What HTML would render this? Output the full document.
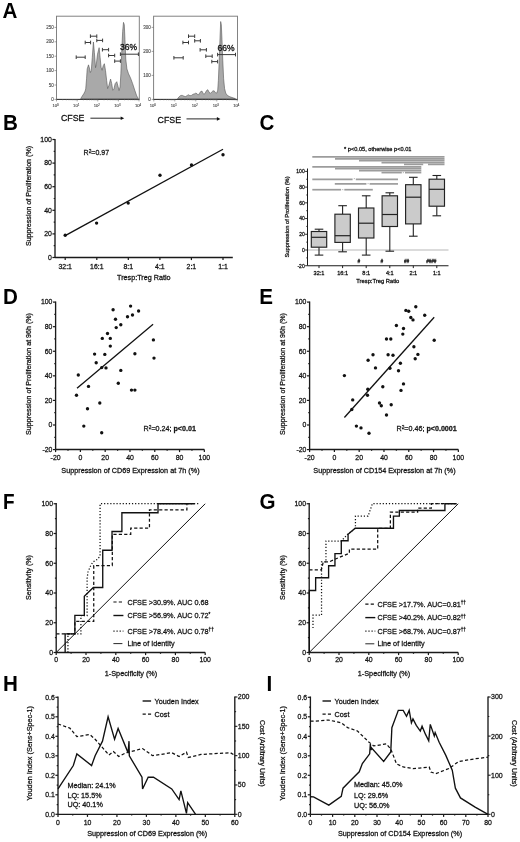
<!DOCTYPE html>
<html><head><meta charset="utf-8"><style>
html,body{margin:0;padding:0;background:#fff;}
body{width:520px;height:842px;overflow:hidden;}
svg{display:block;font-family:"Liberation Sans", sans-serif;filter:grayscale(100%);}
text{stroke:#111;stroke-width:0.26px;}
text[font-weight="bold"]{stroke:none;}
</style></head><body>
<svg width="520" height="842" viewBox="0 0 520 842">
<rect x="0" y="0" width="520" height="842" fill="#fff"/>
<text x="0" y="0" font-size="20.6" font-weight="bold" fill="#000" transform="translate(2.6,18.1) scale(1.0,1.05)">A</text>
<text x="0" y="0" font-size="20.6" font-weight="bold" fill="#000" transform="translate(2.9,129.5) scale(1.0,1.05)">B</text>
<text x="0" y="0" font-size="20.6" font-weight="bold" fill="#000" transform="translate(259.6,130.3) scale(1.0,1.05)">C</text>
<text x="0" y="0" font-size="20.6" font-weight="bold" fill="#000" transform="translate(2.9,303.9) scale(1.0,1.05)">D</text>
<text x="0" y="0" font-size="20.6" font-weight="bold" fill="#000" transform="translate(259.3,304.1) scale(1.0,1.05)">E</text>
<text x="0" y="0" font-size="20.6" font-weight="bold" fill="#000" transform="translate(3,509.1) scale(0.92,1.05)">F</text>
<text x="0" y="0" font-size="20.6" font-weight="bold" fill="#000" transform="translate(259.6,509.1) scale(1.0,1.05)">G</text>
<text x="0" y="0" font-size="20.6" font-weight="bold" fill="#000" transform="translate(2.9,690.5) scale(1.0,1.05)">H</text>
<text x="0" y="0" font-size="20.6" font-weight="bold" fill="#000" transform="translate(266.6,690.5) scale(1.0,1.05)">I</text>
<rect x="56.5" y="16.2" width="82.8" height="83.2" fill="none" stroke="#7c7c7c" stroke-width="0.95"/>
<polygon points="80.66,98.69 82.13,96.24 83.77,93.78 85.08,91.17 85.73,88.88 86.55,78.75 87.2,68.94 88.51,64.85 89.65,68.94 90.31,72.54 91.29,70.57 92.27,57.5 93.41,41.97 94.39,52.59 95.54,67.63 96.35,64.04 97.5,54.23 99.13,47.69 100.11,57.5 101.09,67.3 102.07,70.25 103.22,65.67 104.36,63.71 105.51,70.57 106.65,80.38 107.63,88.55 108.94,85.28 110.57,79.07 111.72,83.65 112.7,90.19 113.84,89.37 115.15,83.65 116.78,81.69 117.93,86.1 119.07,90.51 120.05,86.92 120.87,73.84 121.69,52.59 122.67,31.35 123.49,22.36 124.3,24.81 124.96,39.52 125.77,59.13 126.92,68.94 128.55,73.84 130.51,77.93 132.64,83.65 134.76,90.19 136.73,95.91 138.36,98.69" fill="#a9a9a9" stroke="#555" stroke-width="0.6"/>
<line x1="56.5" y1="99.4" x2="139.3" y2="99.4" stroke="#333" stroke-width="1.0" />
<line x1="54.5" y1="99.4" x2="56.5" y2="99.4" stroke="#666" stroke-width="0.6" />
<text x="53.7" y="100.9" font-size="4.5" text-anchor="end" font-weight="normal" fill="#444" style="stroke-width:0.12px;stroke:#555">0</text>
<line x1="54.5" y1="85" x2="56.5" y2="85" stroke="#666" stroke-width="0.6" />
<text x="53.7" y="86.5" font-size="4.5" text-anchor="end" font-weight="normal" fill="#444" style="stroke-width:0.12px;stroke:#555">50</text>
<line x1="54.5" y1="70.6" x2="56.5" y2="70.6" stroke="#666" stroke-width="0.6" />
<text x="53.7" y="72.1" font-size="4.5" text-anchor="end" font-weight="normal" fill="#444" style="stroke-width:0.12px;stroke:#555">100</text>
<line x1="54.5" y1="56.2" x2="56.5" y2="56.2" stroke="#666" stroke-width="0.6" />
<text x="53.7" y="57.7" font-size="4.5" text-anchor="end" font-weight="normal" fill="#444" style="stroke-width:0.12px;stroke:#555">150</text>
<line x1="54.5" y1="41.8" x2="56.5" y2="41.8" stroke="#666" stroke-width="0.6" />
<text x="53.7" y="43.3" font-size="4.5" text-anchor="end" font-weight="normal" fill="#444" style="stroke-width:0.12px;stroke:#555">200</text>
<line x1="54.5" y1="27.4" x2="56.5" y2="27.4" stroke="#666" stroke-width="0.6" />
<text x="53.7" y="28.9" font-size="4.5" text-anchor="end" font-weight="normal" fill="#444" style="stroke-width:0.12px;stroke:#555">250</text>
<line x1="56.5" y1="99.4" x2="56.5" y2="101.4" stroke="#666" stroke-width="0.6" />
<text x="55.5" y="107" font-size="4.2" text-anchor="middle" fill="#444" style="stroke-width:0.12px;stroke:#555">10<tspan dy="-1.5" font-size="2.8">0</tspan></text>
<line x1="62.73" y1="99.4" x2="62.73" y2="100.4" stroke="#777" stroke-width="0.5" />
<line x1="66.38" y1="99.4" x2="66.38" y2="100.4" stroke="#777" stroke-width="0.5" />
<line x1="68.96" y1="99.4" x2="68.96" y2="100.4" stroke="#777" stroke-width="0.5" />
<line x1="70.97" y1="99.4" x2="70.97" y2="100.4" stroke="#777" stroke-width="0.5" />
<line x1="72.61" y1="99.4" x2="72.61" y2="100.4" stroke="#777" stroke-width="0.5" />
<line x1="73.99" y1="99.4" x2="73.99" y2="100.4" stroke="#777" stroke-width="0.5" />
<line x1="75.19" y1="99.4" x2="75.19" y2="100.4" stroke="#777" stroke-width="0.5" />
<line x1="76.25" y1="99.4" x2="76.25" y2="100.4" stroke="#777" stroke-width="0.5" />
<line x1="77.2" y1="99.4" x2="77.2" y2="101.4" stroke="#666" stroke-width="0.6" />
<text x="76.2" y="107" font-size="4.2" text-anchor="middle" fill="#444" style="stroke-width:0.12px;stroke:#555">10<tspan dy="-1.5" font-size="2.8">1</tspan></text>
<line x1="83.4" y1="99.4" x2="83.4" y2="100.4" stroke="#777" stroke-width="0.5" />
<line x1="87.03" y1="99.4" x2="87.03" y2="100.4" stroke="#777" stroke-width="0.5" />
<line x1="89.6" y1="99.4" x2="89.6" y2="100.4" stroke="#777" stroke-width="0.5" />
<line x1="91.6" y1="99.4" x2="91.6" y2="100.4" stroke="#777" stroke-width="0.5" />
<line x1="93.23" y1="99.4" x2="93.23" y2="100.4" stroke="#777" stroke-width="0.5" />
<line x1="94.61" y1="99.4" x2="94.61" y2="100.4" stroke="#777" stroke-width="0.5" />
<line x1="95.8" y1="99.4" x2="95.8" y2="100.4" stroke="#777" stroke-width="0.5" />
<line x1="96.86" y1="99.4" x2="96.86" y2="100.4" stroke="#777" stroke-width="0.5" />
<line x1="97.8" y1="99.4" x2="97.8" y2="101.4" stroke="#666" stroke-width="0.6" />
<text x="96.8" y="107" font-size="4.2" text-anchor="middle" fill="#444" style="stroke-width:0.12px;stroke:#555">10<tspan dy="-1.5" font-size="2.8">2</tspan></text>
<line x1="104" y1="99.4" x2="104" y2="100.4" stroke="#777" stroke-width="0.5" />
<line x1="107.63" y1="99.4" x2="107.63" y2="100.4" stroke="#777" stroke-width="0.5" />
<line x1="110.2" y1="99.4" x2="110.2" y2="100.4" stroke="#777" stroke-width="0.5" />
<line x1="112.2" y1="99.4" x2="112.2" y2="100.4" stroke="#777" stroke-width="0.5" />
<line x1="113.83" y1="99.4" x2="113.83" y2="100.4" stroke="#777" stroke-width="0.5" />
<line x1="115.21" y1="99.4" x2="115.21" y2="100.4" stroke="#777" stroke-width="0.5" />
<line x1="116.4" y1="99.4" x2="116.4" y2="100.4" stroke="#777" stroke-width="0.5" />
<line x1="117.46" y1="99.4" x2="117.46" y2="100.4" stroke="#777" stroke-width="0.5" />
<line x1="118.4" y1="99.4" x2="118.4" y2="101.4" stroke="#666" stroke-width="0.6" />
<text x="117.4" y="107" font-size="4.2" text-anchor="middle" fill="#444" style="stroke-width:0.12px;stroke:#555">10<tspan dy="-1.5" font-size="2.8">3</tspan></text>
<line x1="124.6" y1="99.4" x2="124.6" y2="100.4" stroke="#777" stroke-width="0.5" />
<line x1="128.23" y1="99.4" x2="128.23" y2="100.4" stroke="#777" stroke-width="0.5" />
<line x1="130.8" y1="99.4" x2="130.8" y2="100.4" stroke="#777" stroke-width="0.5" />
<line x1="132.8" y1="99.4" x2="132.8" y2="100.4" stroke="#777" stroke-width="0.5" />
<line x1="134.43" y1="99.4" x2="134.43" y2="100.4" stroke="#777" stroke-width="0.5" />
<line x1="135.81" y1="99.4" x2="135.81" y2="100.4" stroke="#777" stroke-width="0.5" />
<line x1="137" y1="99.4" x2="137" y2="100.4" stroke="#777" stroke-width="0.5" />
<line x1="138.06" y1="99.4" x2="138.06" y2="100.4" stroke="#777" stroke-width="0.5" />
<line x1="139" y1="99.4" x2="139" y2="101.4" stroke="#666" stroke-width="0.6" />
<text x="138" y="107" font-size="4.2" text-anchor="middle" fill="#444" style="stroke-width:0.12px;stroke:#555">10<tspan dy="-1.5" font-size="2.8">4</tspan></text>
<line x1="76.2" y1="57.2" x2="85.2" y2="57.2" stroke="#3a3a3a" stroke-width="1.0" />
<line x1="76.2" y1="55.4" x2="76.2" y2="59" stroke="#3a3a3a" stroke-width="1.0" />
<line x1="85.2" y1="55.4" x2="85.2" y2="59" stroke="#3a3a3a" stroke-width="1.0" />
<line x1="85.2" y1="42.5" x2="90.6" y2="42.5" stroke="#3a3a3a" stroke-width="1.0" />
<line x1="85.2" y1="40.7" x2="85.2" y2="44.3" stroke="#3a3a3a" stroke-width="1.0" />
<line x1="90.6" y1="40.7" x2="90.6" y2="44.3" stroke="#3a3a3a" stroke-width="1.0" />
<line x1="90.4" y1="36.2" x2="96.8" y2="36.2" stroke="#3a3a3a" stroke-width="1.0" />
<line x1="90.4" y1="34.4" x2="90.4" y2="38" stroke="#3a3a3a" stroke-width="1.0" />
<line x1="96.8" y1="34.4" x2="96.8" y2="38" stroke="#3a3a3a" stroke-width="1.0" />
<line x1="96.8" y1="40.4" x2="102.6" y2="40.4" stroke="#3a3a3a" stroke-width="1.0" />
<line x1="96.8" y1="38.6" x2="96.8" y2="42.2" stroke="#3a3a3a" stroke-width="1.0" />
<line x1="102.6" y1="38.6" x2="102.6" y2="42.2" stroke="#3a3a3a" stroke-width="1.0" />
<line x1="102.4" y1="49.7" x2="108.6" y2="49.7" stroke="#3a3a3a" stroke-width="1.0" />
<line x1="102.4" y1="47.9" x2="102.4" y2="51.5" stroke="#3a3a3a" stroke-width="1.0" />
<line x1="108.6" y1="47.9" x2="108.6" y2="51.5" stroke="#3a3a3a" stroke-width="1.0" />
<line x1="108.6" y1="55.5" x2="114.7" y2="55.5" stroke="#3a3a3a" stroke-width="1.0" />
<line x1="108.6" y1="53.7" x2="108.6" y2="57.3" stroke="#3a3a3a" stroke-width="1.0" />
<line x1="114.7" y1="53.7" x2="114.7" y2="57.3" stroke="#3a3a3a" stroke-width="1.0" />
<line x1="114.7" y1="61.1" x2="120.4" y2="61.1" stroke="#3a3a3a" stroke-width="1.0" />
<line x1="114.7" y1="59.3" x2="114.7" y2="62.9" stroke="#3a3a3a" stroke-width="1.0" />
<line x1="120.4" y1="59.3" x2="120.4" y2="62.9" stroke="#3a3a3a" stroke-width="1.0" />
<line x1="120.4" y1="54.2" x2="138.4" y2="54.2" stroke="#3a3a3a" stroke-width="1.0" />
<line x1="120.4" y1="52.4" x2="120.4" y2="56" stroke="#3a3a3a" stroke-width="1.0" />
<line x1="138.4" y1="52.4" x2="138.4" y2="56" stroke="#3a3a3a" stroke-width="1.0" />
<text x="0" y="0" font-size="8.8" fill="#111" style="stroke-width:0.3px" transform="translate(119.9,49.6) scale(0.97,1.1)">36%</text>
<rect x="153.6" y="16.2" width="83.9" height="83.2" fill="none" stroke="#7c7c7c" stroke-width="0.95"/>
<polygon points="177.52,98.69 179.15,96.73 180.79,95.42 182.42,95.42 184.06,96.24 185.69,96.56 187.32,95.42 188.63,94.76 189.94,95.75 191.41,95.42 193.05,94.27 194.68,93.78 195.82,93.13 197.13,93.78 198.44,95.09 199.58,93.13 200.73,91.5 202.04,91.17 203.02,93.13 204,94.44 205.3,92.8 206.61,90.51 207.76,89.7 208.9,91.82 210.21,93.46 211.52,92.15 212.82,91.01 214.13,90.84 215.44,92.64 216.75,93.13 217.73,90.19 218.38,80.38 219.2,60.77 220.02,37.88 220.67,21.54 221.32,24.81 221.98,39.52 222.79,60.77 223.61,78.75 224.59,88.55 225.74,93.13 227.37,95.42 229.82,96.73 233.09,97.87 235.54,98.69" fill="#a9a9a9" stroke="#555" stroke-width="0.6"/>
<line x1="153.6" y1="99.4" x2="237.5" y2="99.4" stroke="#333" stroke-width="1.0" />
<line x1="151.6" y1="99.4" x2="153.6" y2="99.4" stroke="#666" stroke-width="0.6" />
<text x="150.8" y="100.9" font-size="4.5" text-anchor="end" font-weight="normal" fill="#444" style="stroke-width:0.12px;stroke:#555">0</text>
<line x1="151.6" y1="75.4" x2="153.6" y2="75.4" stroke="#666" stroke-width="0.6" />
<text x="150.8" y="76.9" font-size="4.5" text-anchor="end" font-weight="normal" fill="#444" style="stroke-width:0.12px;stroke:#555">100</text>
<line x1="151.6" y1="51.4" x2="153.6" y2="51.4" stroke="#666" stroke-width="0.6" />
<text x="150.8" y="52.9" font-size="4.5" text-anchor="end" font-weight="normal" fill="#444" style="stroke-width:0.12px;stroke:#555">200</text>
<line x1="151.6" y1="27.4" x2="153.6" y2="27.4" stroke="#666" stroke-width="0.6" />
<text x="150.8" y="28.9" font-size="4.5" text-anchor="end" font-weight="normal" fill="#444" style="stroke-width:0.12px;stroke:#555">300</text>
<line x1="153.8" y1="99.4" x2="153.8" y2="101.4" stroke="#666" stroke-width="0.6" />
<text x="152.8" y="107" font-size="4.2" text-anchor="middle" fill="#444" style="stroke-width:0.12px;stroke:#555">10<tspan dy="-1.5" font-size="2.8">0</tspan></text>
<line x1="160.12" y1="99.4" x2="160.12" y2="100.4" stroke="#777" stroke-width="0.5" />
<line x1="163.82" y1="99.4" x2="163.82" y2="100.4" stroke="#777" stroke-width="0.5" />
<line x1="166.44" y1="99.4" x2="166.44" y2="100.4" stroke="#777" stroke-width="0.5" />
<line x1="168.48" y1="99.4" x2="168.48" y2="100.4" stroke="#777" stroke-width="0.5" />
<line x1="170.14" y1="99.4" x2="170.14" y2="100.4" stroke="#777" stroke-width="0.5" />
<line x1="171.55" y1="99.4" x2="171.55" y2="100.4" stroke="#777" stroke-width="0.5" />
<line x1="172.76" y1="99.4" x2="172.76" y2="100.4" stroke="#777" stroke-width="0.5" />
<line x1="173.84" y1="99.4" x2="173.84" y2="100.4" stroke="#777" stroke-width="0.5" />
<line x1="174.8" y1="99.4" x2="174.8" y2="101.4" stroke="#666" stroke-width="0.6" />
<text x="173.8" y="107" font-size="4.2" text-anchor="middle" fill="#444" style="stroke-width:0.12px;stroke:#555">10<tspan dy="-1.5" font-size="2.8">1</tspan></text>
<line x1="181.12" y1="99.4" x2="181.12" y2="100.4" stroke="#777" stroke-width="0.5" />
<line x1="184.82" y1="99.4" x2="184.82" y2="100.4" stroke="#777" stroke-width="0.5" />
<line x1="187.44" y1="99.4" x2="187.44" y2="100.4" stroke="#777" stroke-width="0.5" />
<line x1="189.48" y1="99.4" x2="189.48" y2="100.4" stroke="#777" stroke-width="0.5" />
<line x1="191.14" y1="99.4" x2="191.14" y2="100.4" stroke="#777" stroke-width="0.5" />
<line x1="192.55" y1="99.4" x2="192.55" y2="100.4" stroke="#777" stroke-width="0.5" />
<line x1="193.76" y1="99.4" x2="193.76" y2="100.4" stroke="#777" stroke-width="0.5" />
<line x1="194.84" y1="99.4" x2="194.84" y2="100.4" stroke="#777" stroke-width="0.5" />
<line x1="195.8" y1="99.4" x2="195.8" y2="101.4" stroke="#666" stroke-width="0.6" />
<text x="194.8" y="107" font-size="4.2" text-anchor="middle" fill="#444" style="stroke-width:0.12px;stroke:#555">10<tspan dy="-1.5" font-size="2.8">2</tspan></text>
<line x1="202.12" y1="99.4" x2="202.12" y2="100.4" stroke="#777" stroke-width="0.5" />
<line x1="205.82" y1="99.4" x2="205.82" y2="100.4" stroke="#777" stroke-width="0.5" />
<line x1="208.44" y1="99.4" x2="208.44" y2="100.4" stroke="#777" stroke-width="0.5" />
<line x1="210.48" y1="99.4" x2="210.48" y2="100.4" stroke="#777" stroke-width="0.5" />
<line x1="212.14" y1="99.4" x2="212.14" y2="100.4" stroke="#777" stroke-width="0.5" />
<line x1="213.55" y1="99.4" x2="213.55" y2="100.4" stroke="#777" stroke-width="0.5" />
<line x1="214.76" y1="99.4" x2="214.76" y2="100.4" stroke="#777" stroke-width="0.5" />
<line x1="215.84" y1="99.4" x2="215.84" y2="100.4" stroke="#777" stroke-width="0.5" />
<line x1="216.8" y1="99.4" x2="216.8" y2="101.4" stroke="#666" stroke-width="0.6" />
<text x="215.8" y="107" font-size="4.2" text-anchor="middle" fill="#444" style="stroke-width:0.12px;stroke:#555">10<tspan dy="-1.5" font-size="2.8">3</tspan></text>
<line x1="222.97" y1="99.4" x2="222.97" y2="100.4" stroke="#777" stroke-width="0.5" />
<line x1="226.58" y1="99.4" x2="226.58" y2="100.4" stroke="#777" stroke-width="0.5" />
<line x1="229.14" y1="99.4" x2="229.14" y2="100.4" stroke="#777" stroke-width="0.5" />
<line x1="231.13" y1="99.4" x2="231.13" y2="100.4" stroke="#777" stroke-width="0.5" />
<line x1="232.75" y1="99.4" x2="232.75" y2="100.4" stroke="#777" stroke-width="0.5" />
<line x1="234.12" y1="99.4" x2="234.12" y2="100.4" stroke="#777" stroke-width="0.5" />
<line x1="235.31" y1="99.4" x2="235.31" y2="100.4" stroke="#777" stroke-width="0.5" />
<line x1="236.36" y1="99.4" x2="236.36" y2="100.4" stroke="#777" stroke-width="0.5" />
<line x1="237.3" y1="99.4" x2="237.3" y2="101.4" stroke="#666" stroke-width="0.6" />
<text x="236.3" y="107" font-size="4.2" text-anchor="middle" fill="#444" style="stroke-width:0.12px;stroke:#555">10<tspan dy="-1.5" font-size="2.8">4</tspan></text>
<line x1="173.9" y1="57.8" x2="183.2" y2="57.8" stroke="#3a3a3a" stroke-width="1.0" />
<line x1="173.9" y1="56" x2="173.9" y2="59.6" stroke="#3a3a3a" stroke-width="1.0" />
<line x1="183.2" y1="56" x2="183.2" y2="59.6" stroke="#3a3a3a" stroke-width="1.0" />
<line x1="182.9" y1="42.5" x2="188.5" y2="42.5" stroke="#3a3a3a" stroke-width="1.0" />
<line x1="182.9" y1="40.7" x2="182.9" y2="44.3" stroke="#3a3a3a" stroke-width="1.0" />
<line x1="188.5" y1="40.7" x2="188.5" y2="44.3" stroke="#3a3a3a" stroke-width="1.0" />
<line x1="188.5" y1="36.2" x2="194.7" y2="36.2" stroke="#3a3a3a" stroke-width="1.0" />
<line x1="188.5" y1="34.4" x2="188.5" y2="38" stroke="#3a3a3a" stroke-width="1.0" />
<line x1="194.7" y1="34.4" x2="194.7" y2="38" stroke="#3a3a3a" stroke-width="1.0" />
<line x1="194.7" y1="40.8" x2="200.4" y2="40.8" stroke="#3a3a3a" stroke-width="1.0" />
<line x1="194.7" y1="39" x2="194.7" y2="42.6" stroke="#3a3a3a" stroke-width="1.0" />
<line x1="200.4" y1="39" x2="200.4" y2="42.6" stroke="#3a3a3a" stroke-width="1.0" />
<line x1="200.1" y1="49.8" x2="206.4" y2="49.8" stroke="#3a3a3a" stroke-width="1.0" />
<line x1="200.1" y1="48" x2="200.1" y2="51.6" stroke="#3a3a3a" stroke-width="1.0" />
<line x1="206.4" y1="48" x2="206.4" y2="51.6" stroke="#3a3a3a" stroke-width="1.0" />
<line x1="205.8" y1="56.2" x2="212.2" y2="56.2" stroke="#3a3a3a" stroke-width="1.0" />
<line x1="205.8" y1="54.4" x2="205.8" y2="58" stroke="#3a3a3a" stroke-width="1.0" />
<line x1="212.2" y1="54.4" x2="212.2" y2="58" stroke="#3a3a3a" stroke-width="1.0" />
<line x1="211.8" y1="61.6" x2="217.6" y2="61.6" stroke="#3a3a3a" stroke-width="1.0" />
<line x1="211.8" y1="59.8" x2="211.8" y2="63.4" stroke="#3a3a3a" stroke-width="1.0" />
<line x1="217.6" y1="59.8" x2="217.6" y2="63.4" stroke="#3a3a3a" stroke-width="1.0" />
<line x1="217.6" y1="54.6" x2="235.5" y2="54.6" stroke="#3a3a3a" stroke-width="1.0" />
<line x1="217.6" y1="52.8" x2="217.6" y2="56.4" stroke="#3a3a3a" stroke-width="1.0" />
<line x1="235.5" y1="52.8" x2="235.5" y2="56.4" stroke="#3a3a3a" stroke-width="1.0" />
<text x="0" y="0" font-size="8.8" fill="#111" style="stroke-width:0.3px" transform="translate(217.5,50.6) scale(0.97,1.1)">66%</text>
<text x="61" y="121.3" font-size="8.8" text-anchor="start" font-weight="normal" fill="#111" >CFSE</text>
<line x1="90.4" y1="118.2" x2="121.2" y2="118.2" stroke="#111" stroke-width="0.9" />
<polygon points="120.7,116.4 124.2,118.2 120.7,120" fill="#111"/>
<text x="157.6" y="122.7" font-size="8.8" text-anchor="start" font-weight="normal" fill="#111" >CFSE</text>
<line x1="186.5" y1="118.9" x2="217.4" y2="118.9" stroke="#111" stroke-width="0.9" />
<polygon points="216.9,117.1 220.4,118.9 216.9,120.7" fill="#111"/>
<line x1="55" y1="139" x2="55" y2="257.5" stroke="#1a1a1a" stroke-width="1.35" />
<line x1="52.4" y1="257.5" x2="55" y2="257.5" stroke="#1a1a1a" stroke-width="1.215" />
<text x="51.8" y="259.8" font-size="6.9" text-anchor="end" font-weight="normal" fill="#1a1a1a" >0</text>
<line x1="52.4" y1="233.9" x2="55" y2="233.9" stroke="#1a1a1a" stroke-width="1.215" />
<text x="51.8" y="236.2" font-size="6.9" text-anchor="end" font-weight="normal" fill="#1a1a1a" >20</text>
<line x1="52.4" y1="210.3" x2="55" y2="210.3" stroke="#1a1a1a" stroke-width="1.215" />
<text x="51.8" y="212.6" font-size="6.9" text-anchor="end" font-weight="normal" fill="#1a1a1a" >40</text>
<line x1="52.4" y1="186.7" x2="55" y2="186.7" stroke="#1a1a1a" stroke-width="1.215" />
<text x="51.8" y="189" font-size="6.9" text-anchor="end" font-weight="normal" fill="#1a1a1a" >60</text>
<line x1="52.4" y1="163.1" x2="55" y2="163.1" stroke="#1a1a1a" stroke-width="1.215" />
<text x="51.8" y="165.4" font-size="6.9" text-anchor="end" font-weight="normal" fill="#1a1a1a" >80</text>
<line x1="52.4" y1="139.5" x2="55" y2="139.5" stroke="#1a1a1a" stroke-width="1.215" />
<text x="51.8" y="141.8" font-size="6.9" text-anchor="end" font-weight="normal" fill="#1a1a1a" >100</text>
<line x1="53.7" y1="245.7" x2="55" y2="245.7" stroke="#1a1a1a" stroke-width="1.215" />
<line x1="53.7" y1="222.1" x2="55" y2="222.1" stroke="#1a1a1a" stroke-width="1.215" />
<line x1="53.7" y1="198.5" x2="55" y2="198.5" stroke="#1a1a1a" stroke-width="1.215" />
<line x1="53.7" y1="174.9" x2="55" y2="174.9" stroke="#1a1a1a" stroke-width="1.215" />
<line x1="53.7" y1="151.3" x2="55" y2="151.3" stroke="#1a1a1a" stroke-width="1.215" />
<line x1="55" y1="257.5" x2="232.8" y2="257.5" stroke="#1a1a1a" stroke-width="1.35" />
<line x1="65.2" y1="257.5" x2="65.2" y2="260.1" stroke="#1a1a1a" stroke-width="1.215" />
<text x="65.2" y="269.1" font-size="6.9" text-anchor="middle" font-weight="normal" fill="#1a1a1a" >32:1</text>
<line x1="96.8" y1="257.5" x2="96.8" y2="260.1" stroke="#1a1a1a" stroke-width="1.215" />
<text x="96.8" y="269.1" font-size="6.9" text-anchor="middle" font-weight="normal" fill="#1a1a1a" >16:1</text>
<line x1="128.3" y1="257.5" x2="128.3" y2="260.1" stroke="#1a1a1a" stroke-width="1.215" />
<text x="128.3" y="269.1" font-size="6.9" text-anchor="middle" font-weight="normal" fill="#1a1a1a" >8:1</text>
<line x1="159.9" y1="257.5" x2="159.9" y2="260.1" stroke="#1a1a1a" stroke-width="1.215" />
<text x="159.9" y="269.1" font-size="6.9" text-anchor="middle" font-weight="normal" fill="#1a1a1a" >4:1</text>
<line x1="191.4" y1="257.5" x2="191.4" y2="260.1" stroke="#1a1a1a" stroke-width="1.215" />
<text x="191.4" y="269.1" font-size="6.9" text-anchor="middle" font-weight="normal" fill="#1a1a1a" >2:1</text>
<line x1="223" y1="257.5" x2="223" y2="260.1" stroke="#1a1a1a" stroke-width="1.215" />
<text x="223" y="269.1" font-size="6.9" text-anchor="middle" font-weight="normal" fill="#1a1a1a" >1:1</text>
<circle cx="65.2" cy="235.2" r="1.68" fill="#111"/>
<circle cx="96.6" cy="223.1" r="1.68" fill="#111"/>
<circle cx="128.2" cy="203.1" r="1.68" fill="#111"/>
<circle cx="160" cy="175.2" r="1.68" fill="#111"/>
<circle cx="191.5" cy="165" r="1.68" fill="#111"/>
<circle cx="223" cy="154.8" r="1.68" fill="#111"/>
<line x1="65.2" y1="235.6" x2="223" y2="149.3" stroke="#111" stroke-width="1.3" />
<text x="83.6" y="155.2" font-size="7" fill="#1a1a1a">R<tspan dy="-2.6" font-size="4.8">2</tspan><tspan dy="2.6">=0.97</tspan></text>
<text x="0" y="0" font-size="7.1" text-anchor="middle" fill="#111" transform="translate(31.2,196) rotate(-90)">Suppression of Proliferation (%)</text>
<text x="143.8" y="280.4" font-size="7.2" text-anchor="middle" font-weight="normal" fill="#111" >Tresp:Treg Ratio</text>
<line x1="55.6" y1="301.5" x2="55.6" y2="449.5" stroke="#1a1a1a" stroke-width="1.35" />
<line x1="53" y1="449.58" x2="55.6" y2="449.58" stroke="#1a1a1a" stroke-width="1.215" />
<text x="52.4" y="451.88" font-size="6.9" text-anchor="end" font-weight="normal" fill="#1a1a1a" >-20</text>
<line x1="53" y1="425" x2="55.6" y2="425" stroke="#1a1a1a" stroke-width="1.215" />
<text x="52.4" y="427.3" font-size="6.9" text-anchor="end" font-weight="normal" fill="#1a1a1a" >0</text>
<line x1="53" y1="400.42" x2="55.6" y2="400.42" stroke="#1a1a1a" stroke-width="1.215" />
<text x="52.4" y="402.72" font-size="6.9" text-anchor="end" font-weight="normal" fill="#1a1a1a" >20</text>
<line x1="53" y1="375.84" x2="55.6" y2="375.84" stroke="#1a1a1a" stroke-width="1.215" />
<text x="52.4" y="378.14" font-size="6.9" text-anchor="end" font-weight="normal" fill="#1a1a1a" >40</text>
<line x1="53" y1="351.26" x2="55.6" y2="351.26" stroke="#1a1a1a" stroke-width="1.215" />
<text x="52.4" y="353.56" font-size="6.9" text-anchor="end" font-weight="normal" fill="#1a1a1a" >60</text>
<line x1="53" y1="326.68" x2="55.6" y2="326.68" stroke="#1a1a1a" stroke-width="1.215" />
<text x="52.4" y="328.98" font-size="6.9" text-anchor="end" font-weight="normal" fill="#1a1a1a" >80</text>
<line x1="53" y1="302.1" x2="55.6" y2="302.1" stroke="#1a1a1a" stroke-width="1.215" />
<text x="52.4" y="304.4" font-size="6.9" text-anchor="end" font-weight="normal" fill="#1a1a1a" >100</text>
<line x1="54.3" y1="437.29" x2="55.6" y2="437.29" stroke="#1a1a1a" stroke-width="1.215" />
<line x1="54.3" y1="412.71" x2="55.6" y2="412.71" stroke="#1a1a1a" stroke-width="1.215" />
<line x1="54.3" y1="388.13" x2="55.6" y2="388.13" stroke="#1a1a1a" stroke-width="1.215" />
<line x1="54.3" y1="363.55" x2="55.6" y2="363.55" stroke="#1a1a1a" stroke-width="1.215" />
<line x1="54.3" y1="338.97" x2="55.6" y2="338.97" stroke="#1a1a1a" stroke-width="1.215" />
<line x1="54.3" y1="314.39" x2="55.6" y2="314.39" stroke="#1a1a1a" stroke-width="1.215" />
<line x1="55.6" y1="449.5" x2="204.34" y2="449.5" stroke="#1a1a1a" stroke-width="1.35" />
<line x1="55.6" y1="449.5" x2="55.6" y2="452.1" stroke="#1a1a1a" stroke-width="1.215" />
<text x="55.6" y="459.7" font-size="6.9" text-anchor="middle" font-weight="normal" fill="#1a1a1a" >-20</text>
<line x1="80.39" y1="449.5" x2="80.39" y2="452.1" stroke="#1a1a1a" stroke-width="1.215" />
<text x="80.39" y="459.7" font-size="6.9" text-anchor="middle" font-weight="normal" fill="#1a1a1a" >0</text>
<line x1="105.18" y1="449.5" x2="105.18" y2="452.1" stroke="#1a1a1a" stroke-width="1.215" />
<text x="105.18" y="459.7" font-size="6.9" text-anchor="middle" font-weight="normal" fill="#1a1a1a" >20</text>
<line x1="129.97" y1="449.5" x2="129.97" y2="452.1" stroke="#1a1a1a" stroke-width="1.215" />
<text x="129.97" y="459.7" font-size="6.9" text-anchor="middle" font-weight="normal" fill="#1a1a1a" >40</text>
<line x1="154.76" y1="449.5" x2="154.76" y2="452.1" stroke="#1a1a1a" stroke-width="1.215" />
<text x="154.76" y="459.7" font-size="6.9" text-anchor="middle" font-weight="normal" fill="#1a1a1a" >60</text>
<line x1="179.55" y1="449.5" x2="179.55" y2="452.1" stroke="#1a1a1a" stroke-width="1.215" />
<text x="179.55" y="459.7" font-size="6.9" text-anchor="middle" font-weight="normal" fill="#1a1a1a" >80</text>
<line x1="204.34" y1="449.5" x2="204.34" y2="452.1" stroke="#1a1a1a" stroke-width="1.215" />
<text x="204.34" y="459.7" font-size="6.9" text-anchor="middle" font-weight="normal" fill="#1a1a1a" >100</text>
<line x1="68" y1="449.5" x2="68" y2="450.8" stroke="#1a1a1a" stroke-width="1.215" />
<line x1="92.78" y1="449.5" x2="92.78" y2="450.8" stroke="#1a1a1a" stroke-width="1.215" />
<line x1="117.58" y1="449.5" x2="117.58" y2="450.8" stroke="#1a1a1a" stroke-width="1.215" />
<line x1="142.37" y1="449.5" x2="142.37" y2="450.8" stroke="#1a1a1a" stroke-width="1.215" />
<line x1="167.16" y1="449.5" x2="167.16" y2="450.8" stroke="#1a1a1a" stroke-width="1.215" />
<line x1="191.94" y1="449.5" x2="191.94" y2="450.8" stroke="#1a1a1a" stroke-width="1.215" />
<circle cx="78.3" cy="375" r="1.68" fill="#111"/>
<circle cx="76.5" cy="395.3" r="1.68" fill="#111"/>
<circle cx="88.5" cy="386.4" r="1.68" fill="#111"/>
<circle cx="87.5" cy="408.8" r="1.68" fill="#111"/>
<circle cx="83.8" cy="426.1" r="1.68" fill="#111"/>
<circle cx="99.8" cy="403" r="1.68" fill="#111"/>
<circle cx="101.7" cy="432.8" r="1.68" fill="#111"/>
<circle cx="94.6" cy="354.1" r="1.68" fill="#111"/>
<circle cx="96.2" cy="362.7" r="1.68" fill="#111"/>
<circle cx="101.7" cy="367.6" r="1.68" fill="#111"/>
<circle cx="104.8" cy="354.4" r="1.68" fill="#111"/>
<circle cx="106" cy="367.9" r="1.68" fill="#111"/>
<circle cx="102.3" cy="338.4" r="1.68" fill="#111"/>
<circle cx="107.5" cy="333.5" r="1.68" fill="#111"/>
<circle cx="110.3" cy="338.4" r="1.68" fill="#111"/>
<circle cx="110.3" cy="346.1" r="1.68" fill="#111"/>
<circle cx="113.1" cy="309.8" r="1.68" fill="#111"/>
<circle cx="115.5" cy="319.3" r="1.68" fill="#111"/>
<circle cx="116.2" cy="327.6" r="1.68" fill="#111"/>
<circle cx="120.8" cy="324.8" r="1.68" fill="#111"/>
<circle cx="120.8" cy="370.4" r="1.68" fill="#111"/>
<circle cx="118.3" cy="383.3" r="1.68" fill="#111"/>
<circle cx="127.5" cy="316.8" r="1.68" fill="#111"/>
<circle cx="130.6" cy="306.1" r="1.68" fill="#111"/>
<circle cx="132.5" cy="315" r="1.68" fill="#111"/>
<circle cx="138.6" cy="311" r="1.68" fill="#111"/>
<circle cx="134.9" cy="353.8" r="1.68" fill="#111"/>
<circle cx="131.5" cy="390.1" r="1.68" fill="#111"/>
<circle cx="134.9" cy="390.1" r="1.68" fill="#111"/>
<circle cx="153.4" cy="339.9" r="1.68" fill="#111"/>
<circle cx="154" cy="358.1" r="1.68" fill="#111"/>
<line x1="77" y1="388.2" x2="153.1" y2="324.2" stroke="#111" stroke-width="1.3" />
<text x="143.6" y="431.3" font-size="7.15" fill="#1a1a1a">R<tspan dy="-2.6" font-size="4.8">2</tspan><tspan dy="2.6">=0.24; </tspan><tspan font-weight="bold">p&lt;0.01</tspan></text>
<text x="130.47" y="472.8" font-size="7.25" text-anchor="middle" font-weight="normal" fill="#111" >Suppression of CD69 Expression at 7h (%)</text>
<text x="0" y="0" font-size="7.1" text-anchor="middle" fill="#111" transform="translate(31.1,374) rotate(-90)">Suppression of Proliferation at 96h (%)</text>
<line x1="309.6" y1="301.5" x2="309.6" y2="449.5" stroke="#1a1a1a" stroke-width="1.35" />
<line x1="307" y1="449.58" x2="309.6" y2="449.58" stroke="#1a1a1a" stroke-width="1.215" />
<text x="306.4" y="451.88" font-size="6.9" text-anchor="end" font-weight="normal" fill="#1a1a1a" >-20</text>
<line x1="307" y1="425" x2="309.6" y2="425" stroke="#1a1a1a" stroke-width="1.215" />
<text x="306.4" y="427.3" font-size="6.9" text-anchor="end" font-weight="normal" fill="#1a1a1a" >0</text>
<line x1="307" y1="400.42" x2="309.6" y2="400.42" stroke="#1a1a1a" stroke-width="1.215" />
<text x="306.4" y="402.72" font-size="6.9" text-anchor="end" font-weight="normal" fill="#1a1a1a" >20</text>
<line x1="307" y1="375.84" x2="309.6" y2="375.84" stroke="#1a1a1a" stroke-width="1.215" />
<text x="306.4" y="378.14" font-size="6.9" text-anchor="end" font-weight="normal" fill="#1a1a1a" >40</text>
<line x1="307" y1="351.26" x2="309.6" y2="351.26" stroke="#1a1a1a" stroke-width="1.215" />
<text x="306.4" y="353.56" font-size="6.9" text-anchor="end" font-weight="normal" fill="#1a1a1a" >60</text>
<line x1="307" y1="326.68" x2="309.6" y2="326.68" stroke="#1a1a1a" stroke-width="1.215" />
<text x="306.4" y="328.98" font-size="6.9" text-anchor="end" font-weight="normal" fill="#1a1a1a" >80</text>
<line x1="307" y1="302.1" x2="309.6" y2="302.1" stroke="#1a1a1a" stroke-width="1.215" />
<text x="306.4" y="304.4" font-size="6.9" text-anchor="end" font-weight="normal" fill="#1a1a1a" >100</text>
<line x1="308.3" y1="437.29" x2="309.6" y2="437.29" stroke="#1a1a1a" stroke-width="1.215" />
<line x1="308.3" y1="412.71" x2="309.6" y2="412.71" stroke="#1a1a1a" stroke-width="1.215" />
<line x1="308.3" y1="388.13" x2="309.6" y2="388.13" stroke="#1a1a1a" stroke-width="1.215" />
<line x1="308.3" y1="363.55" x2="309.6" y2="363.55" stroke="#1a1a1a" stroke-width="1.215" />
<line x1="308.3" y1="338.97" x2="309.6" y2="338.97" stroke="#1a1a1a" stroke-width="1.215" />
<line x1="308.3" y1="314.39" x2="309.6" y2="314.39" stroke="#1a1a1a" stroke-width="1.215" />
<line x1="309.6" y1="449.5" x2="458.34" y2="449.5" stroke="#1a1a1a" stroke-width="1.35" />
<line x1="309.6" y1="449.5" x2="309.6" y2="452.1" stroke="#1a1a1a" stroke-width="1.215" />
<text x="309.6" y="459.7" font-size="6.9" text-anchor="middle" font-weight="normal" fill="#1a1a1a" >-20</text>
<line x1="334.39" y1="449.5" x2="334.39" y2="452.1" stroke="#1a1a1a" stroke-width="1.215" />
<text x="334.39" y="459.7" font-size="6.9" text-anchor="middle" font-weight="normal" fill="#1a1a1a" >0</text>
<line x1="359.18" y1="449.5" x2="359.18" y2="452.1" stroke="#1a1a1a" stroke-width="1.215" />
<text x="359.18" y="459.7" font-size="6.9" text-anchor="middle" font-weight="normal" fill="#1a1a1a" >20</text>
<line x1="383.97" y1="449.5" x2="383.97" y2="452.1" stroke="#1a1a1a" stroke-width="1.215" />
<text x="383.97" y="459.7" font-size="6.9" text-anchor="middle" font-weight="normal" fill="#1a1a1a" >40</text>
<line x1="408.76" y1="449.5" x2="408.76" y2="452.1" stroke="#1a1a1a" stroke-width="1.215" />
<text x="408.76" y="459.7" font-size="6.9" text-anchor="middle" font-weight="normal" fill="#1a1a1a" >60</text>
<line x1="433.55" y1="449.5" x2="433.55" y2="452.1" stroke="#1a1a1a" stroke-width="1.215" />
<text x="433.55" y="459.7" font-size="6.9" text-anchor="middle" font-weight="normal" fill="#1a1a1a" >80</text>
<line x1="458.34" y1="449.5" x2="458.34" y2="452.1" stroke="#1a1a1a" stroke-width="1.215" />
<text x="458.34" y="459.7" font-size="6.9" text-anchor="middle" font-weight="normal" fill="#1a1a1a" >100</text>
<line x1="322" y1="449.5" x2="322" y2="450.8" stroke="#1a1a1a" stroke-width="1.215" />
<line x1="346.79" y1="449.5" x2="346.79" y2="450.8" stroke="#1a1a1a" stroke-width="1.215" />
<line x1="371.58" y1="449.5" x2="371.58" y2="450.8" stroke="#1a1a1a" stroke-width="1.215" />
<line x1="396.37" y1="449.5" x2="396.37" y2="450.8" stroke="#1a1a1a" stroke-width="1.215" />
<line x1="421.16" y1="449.5" x2="421.16" y2="450.8" stroke="#1a1a1a" stroke-width="1.215" />
<line x1="445.95" y1="449.5" x2="445.95" y2="450.8" stroke="#1a1a1a" stroke-width="1.215" />
<circle cx="344.4" cy="375.6" r="1.68" fill="#111"/>
<circle cx="352.7" cy="399.9" r="1.68" fill="#111"/>
<circle cx="351.8" cy="409.5" r="1.68" fill="#111"/>
<circle cx="356.4" cy="426.1" r="1.68" fill="#111"/>
<circle cx="361" cy="427.9" r="1.68" fill="#111"/>
<circle cx="369" cy="433.2" r="1.68" fill="#111"/>
<circle cx="367.8" cy="389.2" r="1.68" fill="#111"/>
<circle cx="367.5" cy="395.3" r="1.68" fill="#111"/>
<circle cx="368.1" cy="360.2" r="1.68" fill="#111"/>
<circle cx="373" cy="354.7" r="1.68" fill="#111"/>
<circle cx="375.5" cy="367.9" r="1.68" fill="#111"/>
<circle cx="379.5" cy="403" r="1.68" fill="#111"/>
<circle cx="381.3" cy="405.8" r="1.68" fill="#111"/>
<circle cx="382.8" cy="386.7" r="1.68" fill="#111"/>
<circle cx="386.5" cy="415" r="1.68" fill="#111"/>
<circle cx="386.5" cy="339" r="1.68" fill="#111"/>
<circle cx="390.8" cy="339" r="1.68" fill="#111"/>
<circle cx="388.1" cy="354.7" r="1.68" fill="#111"/>
<circle cx="393" cy="355.3" r="1.68" fill="#111"/>
<circle cx="389.9" cy="368.2" r="1.68" fill="#111"/>
<circle cx="391.2" cy="404.8" r="1.68" fill="#111"/>
<circle cx="396.4" cy="325.5" r="1.68" fill="#111"/>
<circle cx="398.5" cy="370.7" r="1.68" fill="#111"/>
<circle cx="400.4" cy="363.3" r="1.68" fill="#111"/>
<circle cx="401" cy="390.4" r="1.68" fill="#111"/>
<circle cx="403.5" cy="383.9" r="1.68" fill="#111"/>
<circle cx="403.5" cy="328.5" r="1.68" fill="#111"/>
<circle cx="402.8" cy="334.1" r="1.68" fill="#111"/>
<circle cx="405.9" cy="310.4" r="1.68" fill="#111"/>
<circle cx="408.7" cy="311.3" r="1.68" fill="#111"/>
<circle cx="410.8" cy="317.5" r="1.68" fill="#111"/>
<circle cx="413" cy="319.9" r="1.68" fill="#111"/>
<circle cx="415.8" cy="306.7" r="1.68" fill="#111"/>
<circle cx="424.7" cy="315.3" r="1.68" fill="#111"/>
<circle cx="413.9" cy="346.7" r="1.68" fill="#111"/>
<circle cx="415.2" cy="358.7" r="1.68" fill="#111"/>
<circle cx="417.9" cy="354.4" r="1.68" fill="#111"/>
<circle cx="434.2" cy="340.2" r="1.68" fill="#111"/>
<line x1="344.4" y1="417.5" x2="434.2" y2="317.2" stroke="#111" stroke-width="1.3" />
<text x="396.5" y="431.3" font-size="7.15" fill="#1a1a1a">R<tspan dy="-2.6" font-size="4.8">2</tspan><tspan dy="2.6">=0.46; </tspan><tspan font-weight="bold">p&lt;0.0001</tspan></text>
<text x="384.47" y="472.8" font-size="7.25" text-anchor="middle" font-weight="normal" fill="#111" >Suppression of CD154 Expression at 7h (%)</text>
<text x="0" y="0" font-size="7.1" text-anchor="middle" fill="#111" transform="translate(285.1,374) rotate(-90)">Suppression of Proliferation at 96h (%)</text>
<line x1="307.5" y1="250" x2="448.5" y2="250" stroke="#9a9a9a" stroke-width="0.7" />
<line x1="307.5" y1="168.5" x2="307.5" y2="265.7" stroke="#1a1a1a" stroke-width="1.0" />
<line x1="305.1" y1="265.72" x2="307.5" y2="265.72" stroke="#1a1a1a" stroke-width="0.9" />
<text x="304.7" y="267.52" font-size="5.0" text-anchor="end" font-weight="normal" fill="#1a1a1a" >-20</text>
<line x1="305.1" y1="250" x2="307.5" y2="250" stroke="#1a1a1a" stroke-width="0.9" />
<text x="304.7" y="251.8" font-size="5.0" text-anchor="end" font-weight="normal" fill="#1a1a1a" >0</text>
<line x1="305.1" y1="234.28" x2="307.5" y2="234.28" stroke="#1a1a1a" stroke-width="0.9" />
<text x="304.7" y="236.08" font-size="5.0" text-anchor="end" font-weight="normal" fill="#1a1a1a" >20</text>
<line x1="305.1" y1="218.56" x2="307.5" y2="218.56" stroke="#1a1a1a" stroke-width="0.9" />
<text x="304.7" y="220.36" font-size="5.0" text-anchor="end" font-weight="normal" fill="#1a1a1a" >40</text>
<line x1="305.1" y1="202.84" x2="307.5" y2="202.84" stroke="#1a1a1a" stroke-width="0.9" />
<text x="304.7" y="204.64" font-size="5.0" text-anchor="end" font-weight="normal" fill="#1a1a1a" >60</text>
<line x1="305.1" y1="187.12" x2="307.5" y2="187.12" stroke="#1a1a1a" stroke-width="0.9" />
<text x="304.7" y="188.92" font-size="5.0" text-anchor="end" font-weight="normal" fill="#1a1a1a" >80</text>
<line x1="305.1" y1="171.4" x2="307.5" y2="171.4" stroke="#1a1a1a" stroke-width="0.9" />
<text x="304.7" y="173.2" font-size="5.0" text-anchor="end" font-weight="normal" fill="#1a1a1a" >100</text>
<line x1="306.3" y1="257.86" x2="307.5" y2="257.86" stroke="#1a1a1a" stroke-width="0.9" />
<line x1="306.3" y1="242.14" x2="307.5" y2="242.14" stroke="#1a1a1a" stroke-width="0.9" />
<line x1="306.3" y1="226.42" x2="307.5" y2="226.42" stroke="#1a1a1a" stroke-width="0.9" />
<line x1="306.3" y1="210.7" x2="307.5" y2="210.7" stroke="#1a1a1a" stroke-width="0.9" />
<line x1="306.3" y1="194.98" x2="307.5" y2="194.98" stroke="#1a1a1a" stroke-width="0.9" />
<line x1="306.3" y1="179.26" x2="307.5" y2="179.26" stroke="#1a1a1a" stroke-width="0.9" />
<line x1="307.5" y1="265.7" x2="448.5" y2="265.7" stroke="#1a1a1a" stroke-width="1.1" />
<line x1="319" y1="265.7" x2="319" y2="268.1" stroke="#1a1a1a" stroke-width="0.9900000000000001" />
<text x="319" y="274.9" font-size="5.6" text-anchor="middle" font-weight="normal" fill="#1a1a1a" >32:1</text>
<line x1="342.6" y1="265.7" x2="342.6" y2="268.1" stroke="#1a1a1a" stroke-width="0.9900000000000001" />
<text x="342.6" y="274.9" font-size="5.6" text-anchor="middle" font-weight="normal" fill="#1a1a1a" >16:1</text>
<line x1="366.2" y1="265.7" x2="366.2" y2="268.1" stroke="#1a1a1a" stroke-width="0.9900000000000001" />
<text x="366.2" y="274.9" font-size="5.6" text-anchor="middle" font-weight="normal" fill="#1a1a1a" >8:1</text>
<line x1="389.8" y1="265.7" x2="389.8" y2="268.1" stroke="#1a1a1a" stroke-width="0.9900000000000001" />
<text x="389.8" y="274.9" font-size="5.6" text-anchor="middle" font-weight="normal" fill="#1a1a1a" >4:1</text>
<line x1="413.3" y1="265.7" x2="413.3" y2="268.1" stroke="#1a1a1a" stroke-width="0.9900000000000001" />
<text x="413.3" y="274.9" font-size="5.6" text-anchor="middle" font-weight="normal" fill="#1a1a1a" >2:1</text>
<line x1="436.8" y1="265.7" x2="436.8" y2="268.1" stroke="#1a1a1a" stroke-width="0.9900000000000001" />
<text x="436.8" y="274.9" font-size="5.6" text-anchor="middle" font-weight="normal" fill="#1a1a1a" >1:1</text>
<line x1="319" y1="229.2" x2="319" y2="231.5" stroke="#222" stroke-width="1.1" />
<line x1="319" y1="247.2" x2="319" y2="255.1" stroke="#222" stroke-width="1.1" />
<line x1="314.7" y1="229.2" x2="323.3" y2="229.2" stroke="#222" stroke-width="1.1" />
<line x1="314.7" y1="255.1" x2="323.3" y2="255.1" stroke="#222" stroke-width="1.1" />
<rect x="311.3" y="231.5" width="15.4" height="15.7" fill="#cbcbcb" stroke="#222" stroke-width="1.15"/>
<line x1="311.3" y1="237.3" x2="326.7" y2="237.3" stroke="#222" stroke-width="1.2" />
<line x1="342.6" y1="205.7" x2="342.6" y2="214.2" stroke="#222" stroke-width="1.1" />
<line x1="342.6" y1="242.4" x2="342.6" y2="251.8" stroke="#222" stroke-width="1.1" />
<line x1="338.3" y1="205.7" x2="346.9" y2="205.7" stroke="#222" stroke-width="1.1" />
<line x1="338.3" y1="251.8" x2="346.9" y2="251.8" stroke="#222" stroke-width="1.1" />
<rect x="334.9" y="214.2" width="15.4" height="28.2" fill="#cbcbcb" stroke="#222" stroke-width="1.15"/>
<line x1="334.9" y1="235.7" x2="350.3" y2="235.7" stroke="#222" stroke-width="1.2" />
<line x1="366.2" y1="195.8" x2="366.2" y2="208" stroke="#222" stroke-width="1.1" />
<line x1="366.2" y1="238" x2="366.2" y2="255.1" stroke="#222" stroke-width="1.1" />
<line x1="361.9" y1="195.8" x2="370.5" y2="195.8" stroke="#222" stroke-width="1.1" />
<line x1="361.9" y1="255.1" x2="370.5" y2="255.1" stroke="#222" stroke-width="1.1" />
<rect x="358.5" y="208" width="15.4" height="30" fill="#cbcbcb" stroke="#222" stroke-width="1.15"/>
<line x1="358.5" y1="223.2" x2="373.9" y2="223.2" stroke="#222" stroke-width="1.2" />
<line x1="389.8" y1="192.8" x2="389.8" y2="195.8" stroke="#222" stroke-width="1.1" />
<line x1="389.8" y1="226.5" x2="389.8" y2="251.2" stroke="#222" stroke-width="1.1" />
<line x1="385.5" y1="192.8" x2="394.1" y2="192.8" stroke="#222" stroke-width="1.1" />
<line x1="385.5" y1="251.2" x2="394.1" y2="251.2" stroke="#222" stroke-width="1.1" />
<rect x="382.1" y="195.8" width="15.4" height="30.7" fill="#cbcbcb" stroke="#222" stroke-width="1.15"/>
<line x1="382.1" y1="214.5" x2="397.5" y2="214.5" stroke="#222" stroke-width="1.2" />
<line x1="413.3" y1="177.3" x2="413.3" y2="184.7" stroke="#222" stroke-width="1.1" />
<line x1="413.3" y1="223.9" x2="413.3" y2="236.2" stroke="#222" stroke-width="1.1" />
<line x1="409" y1="177.3" x2="417.6" y2="177.3" stroke="#222" stroke-width="1.1" />
<line x1="409" y1="236.2" x2="417.6" y2="236.2" stroke="#222" stroke-width="1.1" />
<rect x="405.6" y="184.7" width="15.4" height="39.2" fill="#cbcbcb" stroke="#222" stroke-width="1.15"/>
<line x1="405.6" y1="197.2" x2="421" y2="197.2" stroke="#222" stroke-width="1.2" />
<line x1="436.8" y1="175.5" x2="436.8" y2="179.2" stroke="#222" stroke-width="1.1" />
<line x1="436.8" y1="206.2" x2="436.8" y2="215.8" stroke="#222" stroke-width="1.1" />
<line x1="432.5" y1="175.5" x2="441.1" y2="175.5" stroke="#222" stroke-width="1.1" />
<line x1="432.5" y1="215.8" x2="441.1" y2="215.8" stroke="#222" stroke-width="1.1" />
<rect x="429.1" y="179.2" width="15.4" height="27" fill="#cbcbcb" stroke="#222" stroke-width="1.15"/>
<line x1="429.1" y1="189.3" x2="444.5" y2="189.3" stroke="#222" stroke-width="1.2" />
<line x1="312.3" y1="156.9" x2="444.5" y2="156.9" stroke="#9c9c9c" stroke-width="1.7" />
<line x1="335" y1="158.8" x2="444.5" y2="158.8" stroke="#9c9c9c" stroke-width="1.7" />
<line x1="359" y1="160.7" x2="444.5" y2="160.7" stroke="#9c9c9c" stroke-width="1.7" />
<line x1="381.5" y1="162.6" x2="444.5" y2="162.6" stroke="#9c9c9c" stroke-width="1.7" />
<line x1="404" y1="164.4" x2="423.2" y2="164.4" stroke="#9c9c9c" stroke-width="1.7" />
<line x1="428" y1="164.4" x2="444.5" y2="164.4" stroke="#9c9c9c" stroke-width="1.7" />
<line x1="312.3" y1="166.8" x2="421.3" y2="166.8" stroke="#9c9c9c" stroke-width="1.7" />
<line x1="335" y1="168.7" x2="421.3" y2="168.7" stroke="#9c9c9c" stroke-width="1.7" />
<line x1="359" y1="170.6" x2="421.3" y2="170.6" stroke="#9c9c9c" stroke-width="1.7" />
<line x1="381.5" y1="172.6" x2="401.8" y2="172.6" stroke="#9c9c9c" stroke-width="1.7" />
<line x1="405" y1="172.6" x2="421.3" y2="172.6" stroke="#9c9c9c" stroke-width="1.7" />
<text x="403.4" y="174.6" font-size="4.2" text-anchor="middle" font-weight="normal" fill="#888" style="stroke:none">*</text>
<line x1="312.3" y1="179.3" x2="352.6" y2="179.3" stroke="#9c9c9c" stroke-width="1.7" />
<line x1="355.8" y1="179.3" x2="398" y2="179.3" stroke="#9c9c9c" stroke-width="1.7" />
<text x="354.2" y="181.3" font-size="4.2" text-anchor="middle" font-weight="normal" fill="#888" style="stroke:none">*</text>
<line x1="334.8" y1="183.9" x2="366.4" y2="183.9" stroke="#9c9c9c" stroke-width="1.7" />
<line x1="369.6" y1="183.9" x2="398" y2="183.9" stroke="#9c9c9c" stroke-width="1.7" />
<text x="368" y="185.9" font-size="4.2" text-anchor="middle" font-weight="normal" fill="#888" style="stroke:none">*</text>
<line x1="312.3" y1="189.7" x2="341.1" y2="189.7" stroke="#9c9c9c" stroke-width="1.7" />
<line x1="344.3" y1="189.7" x2="372.8" y2="189.7" stroke="#9c9c9c" stroke-width="1.7" />
<text x="342.7" y="191.7" font-size="4.2" text-anchor="middle" font-weight="normal" fill="#888" style="stroke:none">*</text>
<text x="344" y="151.4" font-size="5.65" text-anchor="start" font-weight="normal" fill="#111" >* p&lt;0.05, otherwise p&lt;0.01</text>
<text x="358.8" y="262.6" font-size="4.6" text-anchor="middle" font-weight="normal" fill="#444" font-style="italic">#</text>
<text x="381.8" y="262.6" font-size="4.6" text-anchor="middle" font-weight="normal" fill="#444" font-style="italic">#</text>
<text x="406.5" y="262.6" font-size="4.6" text-anchor="middle" font-weight="normal" fill="#444" font-style="italic">##</text>
<text x="431.3" y="262.6" font-size="4.6" text-anchor="middle" font-weight="normal" fill="#444" font-style="italic">####</text>
<text x="0" y="0" font-size="5.75" text-anchor="middle" fill="#111" transform="translate(289.4,217) rotate(-90)">Suppression of Proliferation (%)</text>
<text x="377.8" y="283.1" font-size="5.8" text-anchor="middle" font-weight="normal" fill="#111" >Tresp:Treg Ratio</text>
<line x1="56.2" y1="503" x2="56.2" y2="652.5" stroke="#1a1a1a" stroke-width="1.35" />
<line x1="53.6" y1="652.5" x2="56.2" y2="652.5" stroke="#1a1a1a" stroke-width="1.215" />
<text x="53" y="654.8" font-size="6.9" text-anchor="end" font-weight="normal" fill="#1a1a1a" >0</text>
<line x1="53.6" y1="622.75" x2="56.2" y2="622.75" stroke="#1a1a1a" stroke-width="1.215" />
<text x="53" y="625.05" font-size="6.9" text-anchor="end" font-weight="normal" fill="#1a1a1a" >20</text>
<line x1="53.6" y1="593" x2="56.2" y2="593" stroke="#1a1a1a" stroke-width="1.215" />
<text x="53" y="595.3" font-size="6.9" text-anchor="end" font-weight="normal" fill="#1a1a1a" >40</text>
<line x1="53.6" y1="563.25" x2="56.2" y2="563.25" stroke="#1a1a1a" stroke-width="1.215" />
<text x="53" y="565.55" font-size="6.9" text-anchor="end" font-weight="normal" fill="#1a1a1a" >60</text>
<line x1="53.6" y1="533.5" x2="56.2" y2="533.5" stroke="#1a1a1a" stroke-width="1.215" />
<text x="53" y="535.8" font-size="6.9" text-anchor="end" font-weight="normal" fill="#1a1a1a" >80</text>
<line x1="53.6" y1="503.75" x2="56.2" y2="503.75" stroke="#1a1a1a" stroke-width="1.215" />
<text x="53" y="506.05" font-size="6.9" text-anchor="end" font-weight="normal" fill="#1a1a1a" >100</text>
<line x1="54.9" y1="637.62" x2="56.2" y2="637.62" stroke="#1a1a1a" stroke-width="1.215" />
<line x1="54.9" y1="607.88" x2="56.2" y2="607.88" stroke="#1a1a1a" stroke-width="1.215" />
<line x1="54.9" y1="578.12" x2="56.2" y2="578.12" stroke="#1a1a1a" stroke-width="1.215" />
<line x1="54.9" y1="548.38" x2="56.2" y2="548.38" stroke="#1a1a1a" stroke-width="1.215" />
<line x1="54.9" y1="518.62" x2="56.2" y2="518.62" stroke="#1a1a1a" stroke-width="1.215" />
<line x1="56.2" y1="652.5" x2="205.2" y2="652.5" stroke="#1a1a1a" stroke-width="1.35" />
<line x1="56.2" y1="652.5" x2="56.2" y2="655.1" stroke="#1a1a1a" stroke-width="1.215" />
<text x="56.2" y="662.3" font-size="6.9" text-anchor="middle" font-weight="normal" fill="#1a1a1a" >0</text>
<line x1="86" y1="652.5" x2="86" y2="655.1" stroke="#1a1a1a" stroke-width="1.215" />
<text x="86" y="662.3" font-size="6.9" text-anchor="middle" font-weight="normal" fill="#1a1a1a" >20</text>
<line x1="115.8" y1="652.5" x2="115.8" y2="655.1" stroke="#1a1a1a" stroke-width="1.215" />
<text x="115.8" y="662.3" font-size="6.9" text-anchor="middle" font-weight="normal" fill="#1a1a1a" >40</text>
<line x1="145.6" y1="652.5" x2="145.6" y2="655.1" stroke="#1a1a1a" stroke-width="1.215" />
<text x="145.6" y="662.3" font-size="6.9" text-anchor="middle" font-weight="normal" fill="#1a1a1a" >60</text>
<line x1="175.4" y1="652.5" x2="175.4" y2="655.1" stroke="#1a1a1a" stroke-width="1.215" />
<text x="175.4" y="662.3" font-size="6.9" text-anchor="middle" font-weight="normal" fill="#1a1a1a" >80</text>
<line x1="205.2" y1="652.5" x2="205.2" y2="655.1" stroke="#1a1a1a" stroke-width="1.215" />
<text x="205.2" y="662.3" font-size="6.9" text-anchor="middle" font-weight="normal" fill="#1a1a1a" >100</text>
<line x1="71.1" y1="652.5" x2="71.1" y2="653.8" stroke="#1a1a1a" stroke-width="1.215" />
<line x1="100.9" y1="652.5" x2="100.9" y2="653.8" stroke="#1a1a1a" stroke-width="1.215" />
<line x1="130.7" y1="652.5" x2="130.7" y2="653.8" stroke="#1a1a1a" stroke-width="1.215" />
<line x1="160.5" y1="652.5" x2="160.5" y2="653.8" stroke="#1a1a1a" stroke-width="1.215" />
<line x1="190.3" y1="652.5" x2="190.3" y2="653.8" stroke="#1a1a1a" stroke-width="1.215" />
<line x1="56.2" y1="652.5" x2="205.2" y2="503.75" stroke="#111" stroke-width="1.0" />
<polyline points="56.3,633.88 74.87,633.88 74.87,621.44 93.74,621.44 93.74,565.61 112.31,565.61 112.31,534.36 130.74,534.36 130.74,528.14 149.46,528.14 149.46,509.92 186.9,509.92 186.9,503.7" fill="none" stroke="#111" stroke-width="1.25" stroke-dasharray="3.2,2.2" stroke-linejoin="miter" />
<polyline points="65.14,652.5 65.14,633.88 74.87,633.88 74.87,615.37 84.31,615.37 84.31,596.26 93.3,587.52 102.73,587.52 102.73,550.2 112.02,550.2 112.02,531.54 121.89,531.54 121.89,512.73 158.01,512.73 158.01,503.7 194.56,503.7" fill="none" stroke="#111" stroke-width="1.35" stroke-linejoin="miter" />
<polyline points="67.94,652.5 67.94,633.88 80.92,633.88 80.92,615.66 87.11,615.66 87.11,578.34 87.99,572.12 90.35,566.35 92.86,562.05 97.57,559.24 100.08,555.98 100.08,503.7 198.54,503.7" fill="none" stroke="#111" stroke-width="1.25" stroke-dasharray="1.2,1.9" stroke-linejoin="miter" />
<line x1="113.4" y1="602" x2="123.4" y2="602" stroke="#111" stroke-width="1.2" stroke-dasharray="3.2,2.2"/>
<text x="127.4" y="604.5" font-size="7.25" fill="#1a1a1a">CFSE &gt;30.9%. AUC 0.68</text>
<line x1="113.4" y1="615.5" x2="123.4" y2="615.5" stroke="#111" stroke-width="1.4" />
<text x="127.4" y="618" font-size="7.25" fill="#1a1a1a">CFSE &gt;56.9%. AUC 0.72<tspan dy="-2.4" font-size="4.6">*</tspan></text>
<line x1="113.4" y1="631.2" x2="123.4" y2="631.2" stroke="#111" stroke-width="1.2" stroke-dasharray="1.2,1.9"/>
<text x="127.4" y="633.7" font-size="7.25" fill="#1a1a1a">CFSE &gt;78.4%. AUC 0.78<tspan dy="-2.4" font-size="4.6">††</tspan></text>
<line x1="113.4" y1="643.6" x2="122.4" y2="643.6" stroke="#111" stroke-width="0.9" />
<text x="127.4" y="646.1" font-size="7.25" fill="#1a1a1a">Line of Identity</text>
<text x="131" y="675.9" font-size="7.25" text-anchor="middle" font-weight="normal" fill="#111" >1-Specificity (%)</text>
<text x="0" y="0" font-size="7.1" text-anchor="middle" fill="#111" transform="translate(30.8,577.5) rotate(-90)">Sensitivity (%)</text>
<line x1="309.2" y1="503" x2="309.2" y2="652.5" stroke="#1a1a1a" stroke-width="1.35" />
<line x1="306.6" y1="652.5" x2="309.2" y2="652.5" stroke="#1a1a1a" stroke-width="1.215" />
<text x="306" y="654.8" font-size="6.9" text-anchor="end" font-weight="normal" fill="#1a1a1a" >0</text>
<line x1="306.6" y1="622.75" x2="309.2" y2="622.75" stroke="#1a1a1a" stroke-width="1.215" />
<text x="306" y="625.05" font-size="6.9" text-anchor="end" font-weight="normal" fill="#1a1a1a" >20</text>
<line x1="306.6" y1="593" x2="309.2" y2="593" stroke="#1a1a1a" stroke-width="1.215" />
<text x="306" y="595.3" font-size="6.9" text-anchor="end" font-weight="normal" fill="#1a1a1a" >40</text>
<line x1="306.6" y1="563.25" x2="309.2" y2="563.25" stroke="#1a1a1a" stroke-width="1.215" />
<text x="306" y="565.55" font-size="6.9" text-anchor="end" font-weight="normal" fill="#1a1a1a" >60</text>
<line x1="306.6" y1="533.5" x2="309.2" y2="533.5" stroke="#1a1a1a" stroke-width="1.215" />
<text x="306" y="535.8" font-size="6.9" text-anchor="end" font-weight="normal" fill="#1a1a1a" >80</text>
<line x1="306.6" y1="503.75" x2="309.2" y2="503.75" stroke="#1a1a1a" stroke-width="1.215" />
<text x="306" y="506.05" font-size="6.9" text-anchor="end" font-weight="normal" fill="#1a1a1a" >100</text>
<line x1="307.9" y1="637.62" x2="309.2" y2="637.62" stroke="#1a1a1a" stroke-width="1.215" />
<line x1="307.9" y1="607.88" x2="309.2" y2="607.88" stroke="#1a1a1a" stroke-width="1.215" />
<line x1="307.9" y1="578.12" x2="309.2" y2="578.12" stroke="#1a1a1a" stroke-width="1.215" />
<line x1="307.9" y1="548.38" x2="309.2" y2="548.38" stroke="#1a1a1a" stroke-width="1.215" />
<line x1="307.9" y1="518.62" x2="309.2" y2="518.62" stroke="#1a1a1a" stroke-width="1.215" />
<line x1="309.2" y1="652.5" x2="458.2" y2="652.5" stroke="#1a1a1a" stroke-width="1.35" />
<line x1="309.2" y1="652.5" x2="309.2" y2="655.1" stroke="#1a1a1a" stroke-width="1.215" />
<text x="309.2" y="662.3" font-size="6.9" text-anchor="middle" font-weight="normal" fill="#1a1a1a" >0</text>
<line x1="339" y1="652.5" x2="339" y2="655.1" stroke="#1a1a1a" stroke-width="1.215" />
<text x="339" y="662.3" font-size="6.9" text-anchor="middle" font-weight="normal" fill="#1a1a1a" >20</text>
<line x1="368.8" y1="652.5" x2="368.8" y2="655.1" stroke="#1a1a1a" stroke-width="1.215" />
<text x="368.8" y="662.3" font-size="6.9" text-anchor="middle" font-weight="normal" fill="#1a1a1a" >40</text>
<line x1="398.6" y1="652.5" x2="398.6" y2="655.1" stroke="#1a1a1a" stroke-width="1.215" />
<text x="398.6" y="662.3" font-size="6.9" text-anchor="middle" font-weight="normal" fill="#1a1a1a" >60</text>
<line x1="428.4" y1="652.5" x2="428.4" y2="655.1" stroke="#1a1a1a" stroke-width="1.215" />
<text x="428.4" y="662.3" font-size="6.9" text-anchor="middle" font-weight="normal" fill="#1a1a1a" >80</text>
<line x1="458.2" y1="652.5" x2="458.2" y2="655.1" stroke="#1a1a1a" stroke-width="1.215" />
<text x="458.2" y="662.3" font-size="6.9" text-anchor="middle" font-weight="normal" fill="#1a1a1a" >100</text>
<line x1="324.1" y1="652.5" x2="324.1" y2="653.8" stroke="#1a1a1a" stroke-width="1.215" />
<line x1="353.9" y1="652.5" x2="353.9" y2="653.8" stroke="#1a1a1a" stroke-width="1.215" />
<line x1="383.7" y1="652.5" x2="383.7" y2="653.8" stroke="#1a1a1a" stroke-width="1.215" />
<line x1="413.5" y1="652.5" x2="413.5" y2="653.8" stroke="#1a1a1a" stroke-width="1.215" />
<line x1="443.3" y1="652.5" x2="443.3" y2="653.8" stroke="#1a1a1a" stroke-width="1.215" />
<line x1="309.2" y1="652.5" x2="458.2" y2="503.75" stroke="#111" stroke-width="1.0" />
<polyline points="309.3,569.75 321.39,569.75 323.3,561.9 329.2,561.9 334.95,559.24 349.39,553.17 349.39,549.17 377.69,549.17 377.69,528.28 390.37,528.28 390.37,512.14 417.64,512.14 417.64,508.14 431.35,508.14 431.35,503.7 444.91,503.7" fill="none" stroke="#111" stroke-width="1.25" stroke-dasharray="3.2,2.2" stroke-linejoin="miter" />
<polyline points="309.3,652.5 309.3,590.49 315.64,590.49 315.64,577.75 328.61,577.75 328.61,565.75 334.95,565.75 334.95,553.61 341.29,553.61 341.29,540.72 348.07,540.72 348.07,534.36 355.14,528.28 393.47,528.28 393.47,516.14 399.36,516.14 399.36,510.51 444.91,510.51 444.91,503.7 456.7,503.7" fill="none" stroke="#111" stroke-width="1.35" stroke-linejoin="miter" />
<polyline points="312.99,628.1 312.99,615.22 321.53,615.22 321.53,561.9 325.96,561.9 325.96,541.02 341.29,541.02 347.48,534.36 355.44,528.28 355.44,516.14 368.11,516.14 372.24,504.14 372.24,503.7 455.23,503.7" fill="none" stroke="#111" stroke-width="1.25" stroke-dasharray="1.2,1.9" stroke-linejoin="miter" />
<line x1="365.3" y1="604.2" x2="375.3" y2="604.2" stroke="#111" stroke-width="1.2" stroke-dasharray="3.2,2.2"/>
<text x="377.4" y="606.7" font-size="7.25" fill="#1a1a1a">CFSE &gt;17.7%. AUC=0.81<tspan dy="-2.4" font-size="4.6">††</tspan></text>
<line x1="365.3" y1="617.6" x2="375.3" y2="617.6" stroke="#111" stroke-width="1.4" />
<text x="377.4" y="620.1" font-size="7.25" fill="#1a1a1a">CFSE &gt;40.2%. AUC=0.82<tspan dy="-2.4" font-size="4.6">††</tspan></text>
<line x1="365.3" y1="631.1" x2="375.3" y2="631.1" stroke="#111" stroke-width="1.2" stroke-dasharray="1.2,1.9"/>
<text x="377.4" y="633.6" font-size="7.25" fill="#1a1a1a">CFSE &gt;68.7%. AUC=0.87<tspan dy="-2.4" font-size="4.6">††</tspan></text>
<line x1="365.3" y1="643.8" x2="374.3" y2="643.8" stroke="#111" stroke-width="0.9" />
<text x="377.4" y="646.3" font-size="7.25" fill="#1a1a1a">Line of Identity</text>
<text x="384" y="675.9" font-size="7.25" text-anchor="middle" font-weight="normal" fill="#111" >1-Specificity (%)</text>
<text x="0" y="0" font-size="7.1" text-anchor="middle" fill="#111" transform="translate(284.8,577.5) rotate(-90)">Sensitivity (%)</text>
<line x1="58" y1="696.5" x2="58" y2="814.3" stroke="#1a1a1a" stroke-width="1.35" />
<line x1="55.4" y1="814.3" x2="58" y2="814.3" stroke="#1a1a1a" stroke-width="1.215" />
<text x="54.8" y="816.6" font-size="6.9" text-anchor="end" font-weight="normal" fill="#1a1a1a" >0.0</text>
<line x1="55.4" y1="794.8" x2="58" y2="794.8" stroke="#1a1a1a" stroke-width="1.215" />
<text x="54.8" y="797.1" font-size="6.9" text-anchor="end" font-weight="normal" fill="#1a1a1a" >0.1</text>
<line x1="55.4" y1="775.3" x2="58" y2="775.3" stroke="#1a1a1a" stroke-width="1.215" />
<text x="54.8" y="777.6" font-size="6.9" text-anchor="end" font-weight="normal" fill="#1a1a1a" >0.2</text>
<line x1="55.4" y1="755.8" x2="58" y2="755.8" stroke="#1a1a1a" stroke-width="1.215" />
<text x="54.8" y="758.1" font-size="6.9" text-anchor="end" font-weight="normal" fill="#1a1a1a" >0.3</text>
<line x1="55.4" y1="736.3" x2="58" y2="736.3" stroke="#1a1a1a" stroke-width="1.215" />
<text x="54.8" y="738.6" font-size="6.9" text-anchor="end" font-weight="normal" fill="#1a1a1a" >0.4</text>
<line x1="55.4" y1="716.8" x2="58" y2="716.8" stroke="#1a1a1a" stroke-width="1.215" />
<text x="54.8" y="719.1" font-size="6.9" text-anchor="end" font-weight="normal" fill="#1a1a1a" >0.5</text>
<line x1="55.4" y1="697.3" x2="58" y2="697.3" stroke="#1a1a1a" stroke-width="1.215" />
<text x="54.8" y="699.6" font-size="6.9" text-anchor="end" font-weight="normal" fill="#1a1a1a" >0.6</text>
<line x1="56.7" y1="804.55" x2="58" y2="804.55" stroke="#1a1a1a" stroke-width="1.215" />
<line x1="56.7" y1="785.05" x2="58" y2="785.05" stroke="#1a1a1a" stroke-width="1.215" />
<line x1="56.7" y1="765.55" x2="58" y2="765.55" stroke="#1a1a1a" stroke-width="1.215" />
<line x1="56.7" y1="746.05" x2="58" y2="746.05" stroke="#1a1a1a" stroke-width="1.215" />
<line x1="56.7" y1="726.55" x2="58" y2="726.55" stroke="#1a1a1a" stroke-width="1.215" />
<line x1="56.7" y1="707.05" x2="58" y2="707.05" stroke="#1a1a1a" stroke-width="1.215" />
<line x1="58" y1="814.3" x2="234.8" y2="814.3" stroke="#1a1a1a" stroke-width="1.35" />
<line x1="58" y1="814.3" x2="58" y2="816.9" stroke="#1a1a1a" stroke-width="1.215" />
<text x="58" y="824.7" font-size="6.9" text-anchor="middle" font-weight="normal" fill="#1a1a1a" >0</text>
<line x1="87.47" y1="814.3" x2="87.47" y2="816.9" stroke="#1a1a1a" stroke-width="1.215" />
<text x="87.47" y="824.7" font-size="6.9" text-anchor="middle" font-weight="normal" fill="#1a1a1a" >10</text>
<line x1="116.93" y1="814.3" x2="116.93" y2="816.9" stroke="#1a1a1a" stroke-width="1.215" />
<text x="116.93" y="824.7" font-size="6.9" text-anchor="middle" font-weight="normal" fill="#1a1a1a" >20</text>
<line x1="146.4" y1="814.3" x2="146.4" y2="816.9" stroke="#1a1a1a" stroke-width="1.215" />
<text x="146.4" y="824.7" font-size="6.9" text-anchor="middle" font-weight="normal" fill="#1a1a1a" >30</text>
<line x1="175.87" y1="814.3" x2="175.87" y2="816.9" stroke="#1a1a1a" stroke-width="1.215" />
<text x="175.87" y="824.7" font-size="6.9" text-anchor="middle" font-weight="normal" fill="#1a1a1a" >40</text>
<line x1="205.33" y1="814.3" x2="205.33" y2="816.9" stroke="#1a1a1a" stroke-width="1.215" />
<text x="205.33" y="824.7" font-size="6.9" text-anchor="middle" font-weight="normal" fill="#1a1a1a" >50</text>
<line x1="234.8" y1="814.3" x2="234.8" y2="816.9" stroke="#1a1a1a" stroke-width="1.215" />
<text x="234.8" y="824.7" font-size="6.9" text-anchor="middle" font-weight="normal" fill="#1a1a1a" >60</text>
<line x1="72.73" y1="814.3" x2="72.73" y2="815.6" stroke="#1a1a1a" stroke-width="1.215" />
<line x1="102.2" y1="814.3" x2="102.2" y2="815.6" stroke="#1a1a1a" stroke-width="1.215" />
<line x1="131.67" y1="814.3" x2="131.67" y2="815.6" stroke="#1a1a1a" stroke-width="1.215" />
<line x1="161.13" y1="814.3" x2="161.13" y2="815.6" stroke="#1a1a1a" stroke-width="1.215" />
<line x1="190.6" y1="814.3" x2="190.6" y2="815.6" stroke="#1a1a1a" stroke-width="1.215" />
<line x1="220.07" y1="814.3" x2="220.07" y2="815.6" stroke="#1a1a1a" stroke-width="1.215" />
<line x1="234.8" y1="696.5" x2="234.8" y2="814.3" stroke="#1a1a1a" stroke-width="1.35" />
<line x1="234.8" y1="814.3" x2="237.4" y2="814.3" stroke="#1a1a1a" stroke-width="1.1" />
<text x="237.8" y="816.7" font-size="7.0" text-anchor="start" font-weight="normal" fill="#1a1a1a" >0</text>
<line x1="234.8" y1="784.97" x2="237.4" y2="784.97" stroke="#1a1a1a" stroke-width="1.1" />
<text x="237.8" y="787.37" font-size="7.0" text-anchor="start" font-weight="normal" fill="#1a1a1a" >50</text>
<line x1="234.8" y1="755.65" x2="237.4" y2="755.65" stroke="#1a1a1a" stroke-width="1.1" />
<text x="237.8" y="758.05" font-size="7.0" text-anchor="start" font-weight="normal" fill="#1a1a1a" >100</text>
<line x1="234.8" y1="726.32" x2="237.4" y2="726.32" stroke="#1a1a1a" stroke-width="1.1" />
<text x="237.8" y="728.72" font-size="7.0" text-anchor="start" font-weight="normal" fill="#1a1a1a" >150</text>
<line x1="234.8" y1="697" x2="237.4" y2="697" stroke="#1a1a1a" stroke-width="1.1" />
<text x="237.8" y="699.4" font-size="7.0" text-anchor="start" font-weight="normal" fill="#1a1a1a" >200</text>
<line x1="234.8" y1="799.64" x2="236.1" y2="799.64" stroke="#1a1a1a" stroke-width="1.1" />
<line x1="234.8" y1="770.31" x2="236.1" y2="770.31" stroke="#1a1a1a" stroke-width="1.1" />
<line x1="234.8" y1="740.99" x2="236.1" y2="740.99" stroke="#1a1a1a" stroke-width="1.1" />
<line x1="234.8" y1="711.66" x2="236.1" y2="711.66" stroke="#1a1a1a" stroke-width="1.1" />
<polyline points="58,788.95 73.32,765.55 76.86,753.85 91.59,765.55 95.13,755.8 102.49,741.17 108.09,716.8 114.58,739.22 118.11,728.5 128.13,752.88 129.01,741.17 129.31,755.8 141.98,777.25 142.57,788.95 148.17,777.25 153.47,777.25 171.74,788.95 179.11,799.67 180.88,790.9 186.47,813.32 187.65,802.6 195.61,814.3" fill="none" stroke="#111" stroke-width="1.35" stroke-linejoin="miter" />
<polyline points="58,723.98 69.79,728.08 76.86,736.59 89.82,734.54 95.13,739.23 108.98,755.06 113.4,751.54 118.7,756.47 126.07,752.72 142.57,748.61 152.59,755.65 171.74,752.72 179.11,756.47 186.47,752.13 188.24,757.41 200.91,754.48 230.38,752.72 234.21,755.06" fill="none" stroke="#111" stroke-width="1.25" stroke-dasharray="3.2,2.2" stroke-linejoin="miter" />
<line x1="142.6" y1="701" x2="151.1" y2="701" stroke="#111" stroke-width="1.4" />
<text x="154.6" y="703.5" font-size="7.25" text-anchor="start" font-weight="normal" fill="#111" >Youden Index</text>
<line x1="142.6" y1="714.2" x2="151.1" y2="714.2" stroke="#111" stroke-width="1.25" stroke-dasharray="3.2,2.2"/>
<text x="154.6" y="716.7" font-size="7.25" text-anchor="start" font-weight="normal" fill="#111" >Cost</text>
<text x="67.4" y="788.3" font-size="7.25" text-anchor="start" font-weight="normal" fill="#111" >Median: 24.1%</text>
<text x="67.4" y="798.3" font-size="7.25" text-anchor="start" font-weight="normal" fill="#111" >LQ: 15.5%</text>
<text x="67.4" y="806.8" font-size="7.25" text-anchor="start" font-weight="normal" fill="#111" >UQ: 40.1%</text>
<text x="147.2" y="836.3" font-size="7.25" text-anchor="middle" font-weight="normal" fill="#111" >Suppression of CD69 Expression (%)</text>
<text x="0" y="0" font-size="7.25" text-anchor="middle" fill="#111" transform="translate(31.9,753.3) rotate(-90)">Youden Index (Sens+Spec-1)</text>
<text x="0" y="0" font-size="7.15" text-anchor="middle" fill="#111" transform="translate(259.5,753.3) rotate(90)">Cost (Arbitrary Units)</text>
<line x1="310.4" y1="696.5" x2="310.4" y2="814.3" stroke="#1a1a1a" stroke-width="1.35" />
<line x1="307.8" y1="814.3" x2="310.4" y2="814.3" stroke="#1a1a1a" stroke-width="1.215" />
<text x="307.2" y="816.6" font-size="6.9" text-anchor="end" font-weight="normal" fill="#1a1a1a" >0.0</text>
<line x1="307.8" y1="794.8" x2="310.4" y2="794.8" stroke="#1a1a1a" stroke-width="1.215" />
<text x="307.2" y="797.1" font-size="6.9" text-anchor="end" font-weight="normal" fill="#1a1a1a" >0.1</text>
<line x1="307.8" y1="775.3" x2="310.4" y2="775.3" stroke="#1a1a1a" stroke-width="1.215" />
<text x="307.2" y="777.6" font-size="6.9" text-anchor="end" font-weight="normal" fill="#1a1a1a" >0.2</text>
<line x1="307.8" y1="755.8" x2="310.4" y2="755.8" stroke="#1a1a1a" stroke-width="1.215" />
<text x="307.2" y="758.1" font-size="6.9" text-anchor="end" font-weight="normal" fill="#1a1a1a" >0.3</text>
<line x1="307.8" y1="736.3" x2="310.4" y2="736.3" stroke="#1a1a1a" stroke-width="1.215" />
<text x="307.2" y="738.6" font-size="6.9" text-anchor="end" font-weight="normal" fill="#1a1a1a" >0.4</text>
<line x1="307.8" y1="716.8" x2="310.4" y2="716.8" stroke="#1a1a1a" stroke-width="1.215" />
<text x="307.2" y="719.1" font-size="6.9" text-anchor="end" font-weight="normal" fill="#1a1a1a" >0.5</text>
<line x1="307.8" y1="697.3" x2="310.4" y2="697.3" stroke="#1a1a1a" stroke-width="1.215" />
<text x="307.2" y="699.6" font-size="6.9" text-anchor="end" font-weight="normal" fill="#1a1a1a" >0.6</text>
<line x1="309.1" y1="804.55" x2="310.4" y2="804.55" stroke="#1a1a1a" stroke-width="1.215" />
<line x1="309.1" y1="785.05" x2="310.4" y2="785.05" stroke="#1a1a1a" stroke-width="1.215" />
<line x1="309.1" y1="765.55" x2="310.4" y2="765.55" stroke="#1a1a1a" stroke-width="1.215" />
<line x1="309.1" y1="746.05" x2="310.4" y2="746.05" stroke="#1a1a1a" stroke-width="1.215" />
<line x1="309.1" y1="726.55" x2="310.4" y2="726.55" stroke="#1a1a1a" stroke-width="1.215" />
<line x1="309.1" y1="707.05" x2="310.4" y2="707.05" stroke="#1a1a1a" stroke-width="1.215" />
<line x1="310.4" y1="814.3" x2="488" y2="814.3" stroke="#1a1a1a" stroke-width="1.35" />
<line x1="310.4" y1="814.3" x2="310.4" y2="816.9" stroke="#1a1a1a" stroke-width="1.215" />
<text x="310.4" y="824.7" font-size="6.9" text-anchor="middle" font-weight="normal" fill="#1a1a1a" >0</text>
<line x1="332.6" y1="814.3" x2="332.6" y2="816.9" stroke="#1a1a1a" stroke-width="1.215" />
<text x="332.6" y="824.7" font-size="6.9" text-anchor="middle" font-weight="normal" fill="#1a1a1a" >10</text>
<line x1="354.8" y1="814.3" x2="354.8" y2="816.9" stroke="#1a1a1a" stroke-width="1.215" />
<text x="354.8" y="824.7" font-size="6.9" text-anchor="middle" font-weight="normal" fill="#1a1a1a" >20</text>
<line x1="377" y1="814.3" x2="377" y2="816.9" stroke="#1a1a1a" stroke-width="1.215" />
<text x="377" y="824.7" font-size="6.9" text-anchor="middle" font-weight="normal" fill="#1a1a1a" >30</text>
<line x1="399.2" y1="814.3" x2="399.2" y2="816.9" stroke="#1a1a1a" stroke-width="1.215" />
<text x="399.2" y="824.7" font-size="6.9" text-anchor="middle" font-weight="normal" fill="#1a1a1a" >40</text>
<line x1="421.4" y1="814.3" x2="421.4" y2="816.9" stroke="#1a1a1a" stroke-width="1.215" />
<text x="421.4" y="824.7" font-size="6.9" text-anchor="middle" font-weight="normal" fill="#1a1a1a" >50</text>
<line x1="443.6" y1="814.3" x2="443.6" y2="816.9" stroke="#1a1a1a" stroke-width="1.215" />
<text x="443.6" y="824.7" font-size="6.9" text-anchor="middle" font-weight="normal" fill="#1a1a1a" >60</text>
<line x1="465.8" y1="814.3" x2="465.8" y2="816.9" stroke="#1a1a1a" stroke-width="1.215" />
<text x="465.8" y="824.7" font-size="6.9" text-anchor="middle" font-weight="normal" fill="#1a1a1a" >70</text>
<line x1="488" y1="814.3" x2="488" y2="816.9" stroke="#1a1a1a" stroke-width="1.215" />
<text x="488" y="824.7" font-size="6.9" text-anchor="middle" font-weight="normal" fill="#1a1a1a" >80</text>
<line x1="321.5" y1="814.3" x2="321.5" y2="815.6" stroke="#1a1a1a" stroke-width="1.215" />
<line x1="343.7" y1="814.3" x2="343.7" y2="815.6" stroke="#1a1a1a" stroke-width="1.215" />
<line x1="365.9" y1="814.3" x2="365.9" y2="815.6" stroke="#1a1a1a" stroke-width="1.215" />
<line x1="388.1" y1="814.3" x2="388.1" y2="815.6" stroke="#1a1a1a" stroke-width="1.215" />
<line x1="410.3" y1="814.3" x2="410.3" y2="815.6" stroke="#1a1a1a" stroke-width="1.215" />
<line x1="432.5" y1="814.3" x2="432.5" y2="815.6" stroke="#1a1a1a" stroke-width="1.215" />
<line x1="454.7" y1="814.3" x2="454.7" y2="815.6" stroke="#1a1a1a" stroke-width="1.215" />
<line x1="476.9" y1="814.3" x2="476.9" y2="815.6" stroke="#1a1a1a" stroke-width="1.215" />
<line x1="488" y1="696.5" x2="488" y2="814.3" stroke="#1a1a1a" stroke-width="1.35" />
<line x1="488" y1="814.3" x2="490.6" y2="814.3" stroke="#1a1a1a" stroke-width="1.1" />
<text x="491" y="816.7" font-size="7.0" text-anchor="start" font-weight="normal" fill="#1a1a1a" >0</text>
<line x1="488" y1="775.2" x2="490.6" y2="775.2" stroke="#1a1a1a" stroke-width="1.1" />
<text x="491" y="777.6" font-size="7.0" text-anchor="start" font-weight="normal" fill="#1a1a1a" >100</text>
<line x1="488" y1="736.1" x2="490.6" y2="736.1" stroke="#1a1a1a" stroke-width="1.1" />
<text x="491" y="738.5" font-size="7.0" text-anchor="start" font-weight="normal" fill="#1a1a1a" >200</text>
<line x1="488" y1="697" x2="490.6" y2="697" stroke="#1a1a1a" stroke-width="1.1" />
<text x="491" y="699.4" font-size="7.0" text-anchor="start" font-weight="normal" fill="#1a1a1a" >300</text>
<line x1="488" y1="794.75" x2="489.3" y2="794.75" stroke="#1a1a1a" stroke-width="1.1" />
<line x1="488" y1="755.65" x2="489.3" y2="755.65" stroke="#1a1a1a" stroke-width="1.1" />
<line x1="488" y1="716.55" x2="489.3" y2="716.55" stroke="#1a1a1a" stroke-width="1.1" />
<polyline points="310.4,796.75 313.51,796.94 328.83,805.13 341.26,796.36 343.03,788.17 351.03,779.98 359.24,771.79 362.35,763.6 369.67,753.85 370.34,744.1 371.01,749.95 371.67,748 383.66,761.45 390.76,751.9 391.87,727.72 398.31,710.37 403.2,710.37 406.53,716.21 409.19,710.37 411.41,722.84 412.96,718.94 416.29,725.38 420.29,731.03 422.07,726.16 425.4,734.15 428.73,740.78 430.28,724.4 434.28,735.91 435.16,732.59 439.16,742.34 445.82,755.41 452.26,770.23 455.37,788.17 460.47,797.92 475.12,807.08 488,814.3" fill="none" stroke="#111" stroke-width="1.35" stroke-linejoin="miter" />
<polyline points="310.4,721.24 313.51,721.24 328.83,720.07 341.26,722.81 347.7,727.69 357.46,731.02 368.79,741.96 373.67,745.88 386.32,743.92 390.76,749 396.54,763.86 403.2,766.99 412.96,768.55 419.4,768.16 429.17,766.99 430.95,772.07 435.83,773.64 448.93,768.55 458.7,761.51 475.12,758.78 488,757.21" fill="none" stroke="#111" stroke-width="1.25" stroke-dasharray="3.2,2.2" stroke-linejoin="miter" />
<line x1="322.5" y1="701" x2="331" y2="701" stroke="#111" stroke-width="1.4" />
<text x="334.5" y="703.5" font-size="7.25" text-anchor="start" font-weight="normal" fill="#111" >Youden Index</text>
<line x1="322.5" y1="714.2" x2="331" y2="714.2" stroke="#111" stroke-width="1.25" stroke-dasharray="3.2,2.2"/>
<text x="334.5" y="716.7" font-size="7.25" text-anchor="start" font-weight="normal" fill="#111" >Cost</text>
<text x="354" y="787.3" font-size="7.25" text-anchor="start" font-weight="normal" fill="#111" >Median: 45.0%</text>
<text x="354" y="797.8" font-size="7.25" text-anchor="start" font-weight="normal" fill="#111" >LQ: 29.6%</text>
<text x="354" y="807.5" font-size="7.25" text-anchor="start" font-weight="normal" fill="#111" >UQ: 56.0%</text>
<text x="400" y="836.3" font-size="7.25" text-anchor="middle" font-weight="normal" fill="#111" >Suppression of CD154 Expression (%)</text>
<text x="0" y="0" font-size="7.25" text-anchor="middle" fill="#111" transform="translate(284.6,753.3) rotate(-90)">Youden Index (Sens+Spec-1)</text>
<text x="0" y="0" font-size="7.15" text-anchor="middle" fill="#111" transform="translate(512.2,753.3) rotate(90)">Cost (Arbitrary Units)</text>
</svg>
</body></html>
